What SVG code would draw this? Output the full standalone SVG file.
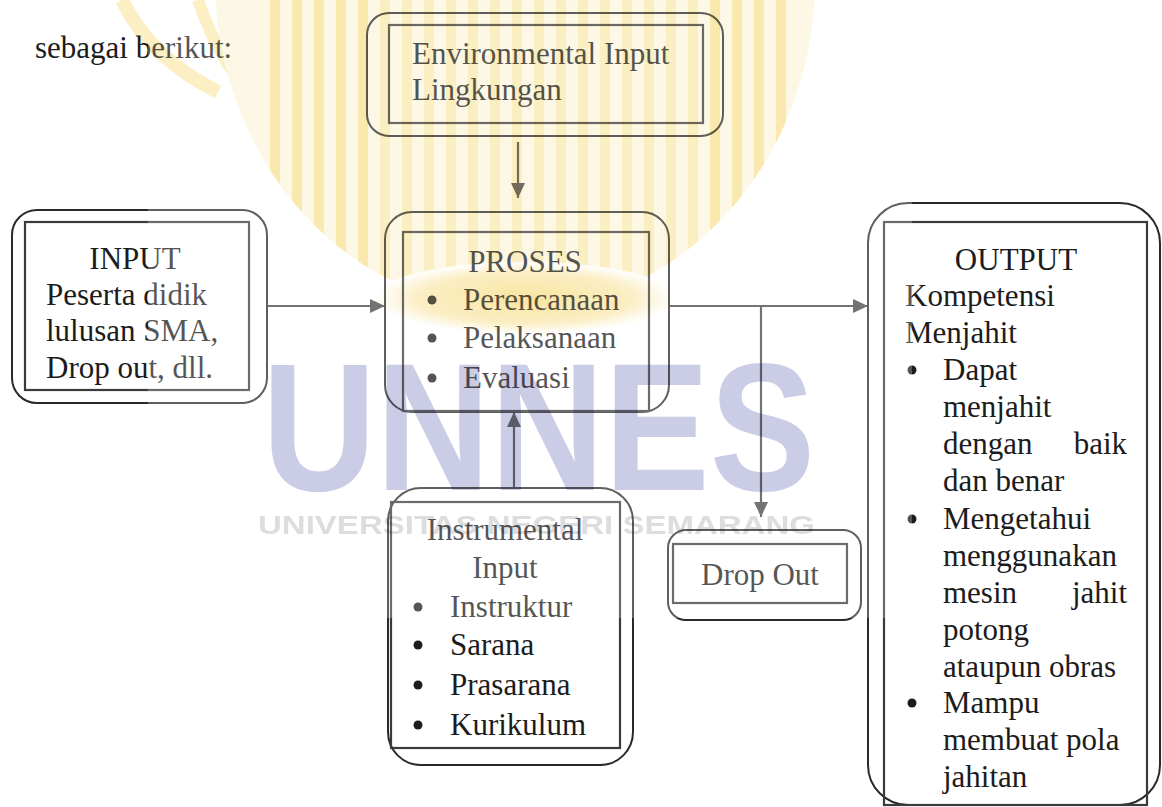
<svg xmlns="http://www.w3.org/2000/svg" width="1162" height="807" viewBox="0 0 1162 807">
  <defs>
    <style>
      .t { font-family: "Liberation Serif", "Times New Roman", serif; font-size: 31px; fill: #1c1c1c; }
      .mid { text-anchor: middle; }
      .end { text-anchor: end; }
      .outer { fill: none; stroke: #2a2a2a; stroke-width: 2; }
      .inner { fill: none; stroke: #3a3a3a; stroke-width: 2.2; }
      .conn { fill: none; stroke: #444; stroke-width: 2.2; }
      .dot { fill: #1c1c1c; }
      .stripe { fill: #f9e49c; }
      .arc { fill: none; stroke: #fbebb4; }
    </style>
    <marker id="arr" viewBox="0 0 15 14" refX="15" refY="7" markerWidth="15" markerHeight="14" markerUnits="userSpaceOnUse" orient="auto">
      <path d="M0,0 L15,7 L0,14 Z" fill="#444"/>
    </marker>
    <clipPath id="emblemClip">
      <ellipse cx="515" cy="-20" rx="300" ry="330"/>
    </clipPath>
    <radialGradient id="glow">
      <stop offset="0" stop-color="#f8df8a"/>
      <stop offset="0.7" stop-color="#fbeab5"/>
      <stop offset="1" stop-color="#ffffff"/>
    </radialGradient>
  </defs>
  <rect width="1162" height="807" fill="#fff"/>

  <text class="t" x="35" y="58">sebagai berikut:</text>

  <g id="connectors">
    <line class="conn" x1="518" y1="142" x2="518" y2="198" marker-end="url(#arr)"/>
    <line class="conn" x1="267" y1="306" x2="385" y2="306" marker-end="url(#arr)"/>
    <line class="conn" x1="669" y1="306" x2="868" y2="306" marker-end="url(#arr)"/>
    <line class="conn" x1="761" y1="306" x2="761" y2="517" marker-end="url(#arr)"/>
    <line class="conn" x1="514" y1="488" x2="514" y2="412" marker-end="url(#arr)"/>
  </g>

  <g id="env">
    <rect class="outer" x="367" y="13" width="356" height="123" rx="22"/>
    <rect class="inner" x="389" y="25" width="314" height="98"/>
    <text class="t" x="412" y="64">Environmental Input</text>
    <text class="t" x="412" y="100">Lingkungan</text>
  </g>

  <g id="input">
    <rect class="outer" x="12" y="210" width="255" height="193" rx="25"/>
    <rect class="inner" x="25" y="222" width="224" height="168"/>
    <text class="t mid" x="135" y="269">INPUT</text>
    <text class="t" x="46" y="305">Peserta didik</text>
    <text class="t" x="46" y="341">lulusan SMA,</text>
    <text class="t" x="46" y="378">Drop out, dll.</text>
  </g>

  <g id="proses">
    <rect class="outer" x="385" y="212" width="284" height="200" rx="27"/>
    <rect class="inner" x="403" y="232" width="246" height="179"/>
    <text class="t mid" x="525" y="272">PROSES</text>
    <circle class="dot" cx="432" cy="300" r="4.5"/>
    <text class="t" x="463" y="310">Perencanaan</text>
    <circle class="dot" cx="432" cy="338" r="4.5"/>
    <text class="t" x="463" y="348">Pelaksanaan</text>
    <circle class="dot" cx="432" cy="378" r="4.5"/>
    <text class="t" x="463" y="388">Evaluasi</text>
  </g>

  <g id="instrumental">
    <rect class="outer" x="388" y="488" width="245" height="277" rx="33"/>
    <rect class="inner" x="391" y="502" width="229" height="246"/>
    <text class="t mid" x="505" y="540">Instrumental</text>
    <text class="t mid" x="505" y="578">Input</text>
    <circle class="dot" cx="418" cy="607" r="4.5"/>
    <text class="t" x="450" y="617">Instruktur</text>
    <circle class="dot" cx="418" cy="645" r="4.5"/>
    <text class="t" x="450" y="655">Sarana</text>
    <circle class="dot" cx="418" cy="685" r="4.5"/>
    <text class="t" x="450" y="695">Prasarana</text>
    <circle class="dot" cx="418" cy="725" r="4.5"/>
    <text class="t" x="450" y="735">Kurikulum</text>
  </g>

  <g id="dropout">
    <rect class="outer" x="668" y="530" width="193" height="90" rx="18"/>
    <rect class="inner" x="673" y="544" width="174" height="59"/>
    <text class="t mid" x="760" y="585">Drop Out</text>
  </g>

  <g id="output">
    <rect class="outer" x="868" y="203" width="292" height="602" rx="40"/>
    <rect class="inner" x="884" y="222" width="263" height="583"/>
    <text class="t mid" x="1016" y="270">OUTPUT</text>
    <text class="t" x="905" y="306">Kompetensi</text>
    <text class="t" x="905" y="343">Menjahit</text>
    <circle class="dot" cx="912" cy="370" r="4.5"/>
    <text class="t" x="943" y="380">Dapat</text>
    <text class="t" x="943" y="417">menjahit</text>
    <text class="t" x="943" y="454">dengan</text>
    <text class="t end" x="1127" y="454">baik</text>
    <text class="t" x="943" y="491">dan benar</text>
    <circle class="dot" cx="912" cy="519" r="4.5"/>
    <text class="t" x="943" y="529">Mengetahui</text>
    <text class="t" x="943" y="566">menggunakan</text>
    <text class="t" x="943" y="603">mesin</text>
    <text class="t end" x="1127" y="603">jahit</text>
    <text class="t" x="943" y="640">potong</text>
    <text class="t" x="943" y="677">ataupun obras</text>
    <circle class="dot" cx="912" cy="703" r="4.5"/>
    <text class="t" x="943" y="713">Mampu</text>
    <text class="t" x="943" y="750">membuat pola</text>
    <text class="t" x="943" y="787">jahitan</text>
  </g>

  <g id="watermark">
    <rect x="148" y="0" width="764" height="618" fill="#fff" opacity="0.25"/>
    <g style="mix-blend-mode:multiply">
      <g opacity="0.8">
        <path class="arc" d="M122,0 Q150,58 218,92" stroke-width="14"/>
        <path class="arc" d="M198,0 Q222,72 276,122" stroke-width="12"/>
        <g clip-path="url(#emblemClip)">
          <rect x="200" y="0" width="630" height="340" fill="#fdf7e0"/>
          <rect class="stripe" x="270" y="0" width="10" height="340"/>
          <rect class="stripe" x="292" y="0" width="10" height="340"/>
          <rect class="stripe" x="314" y="0" width="10" height="340"/>
          <rect class="stripe" x="336" y="0" width="10" height="340"/>
          <rect class="stripe" x="358" y="0" width="10" height="340"/>
          <rect class="stripe" x="380" y="0" width="10" height="340" opacity="0.7"/>
          <rect class="stripe" x="402" y="0" width="10" height="340" opacity="0.7"/>
          <rect class="stripe" x="424" y="0" width="10" height="340" opacity="0.7"/>
          <rect class="stripe" x="446" y="0" width="10" height="340" opacity="0.7"/>
          <rect class="stripe" x="468" y="0" width="10" height="340" opacity="0.7"/>
          <rect class="stripe" x="490" y="0" width="10" height="340" opacity="0.7"/>
          <rect class="stripe" x="512" y="0" width="10" height="340" opacity="0.7"/>
          <rect class="stripe" x="534" y="0" width="10" height="340" opacity="0.7"/>
          <rect class="stripe" x="556" y="0" width="10" height="340" opacity="0.7"/>
          <rect class="stripe" x="578" y="0" width="10" height="340" opacity="0.7"/>
          <rect class="stripe" x="600" y="0" width="10" height="340" opacity="0.7"/>
          <rect class="stripe" x="622" y="0" width="10" height="340" opacity="0.7"/>
          <rect class="stripe" x="644" y="0" width="10" height="340" opacity="0.7"/>
          <rect class="stripe" x="666" y="0" width="10" height="340" opacity="0.7"/>
          <rect class="stripe" x="688" y="0" width="10" height="340" opacity="0.7"/>
          <rect class="stripe" x="710" y="0" width="10" height="340"/>
          <rect class="stripe" x="732" y="0" width="10" height="340"/>
          <rect class="stripe" x="754" y="0" width="10" height="340"/>
          <rect class="stripe" x="776" y="0" width="10" height="340"/>
        </g>
        <ellipse cx="525" cy="298" rx="150" ry="36" fill="url(#glow)"/>
      </g>
      <text x="262" y="490" textLength="553" lengthAdjust="spacingAndGlyphs" style="font-family:'Liberation Sans',Arial,sans-serif;font-weight:bold;font-size:181px;fill:#cbcce6">UNNES</text>
      <text x="258" y="534" textLength="557" lengthAdjust="spacingAndGlyphs" style="font-family:'Liberation Sans',Arial,sans-serif;font-weight:bold;font-size:26px;fill:#dddddd">UNIVERSITAS NEGERI SEMARANG</text>
    </g>
  </g>
</svg>
